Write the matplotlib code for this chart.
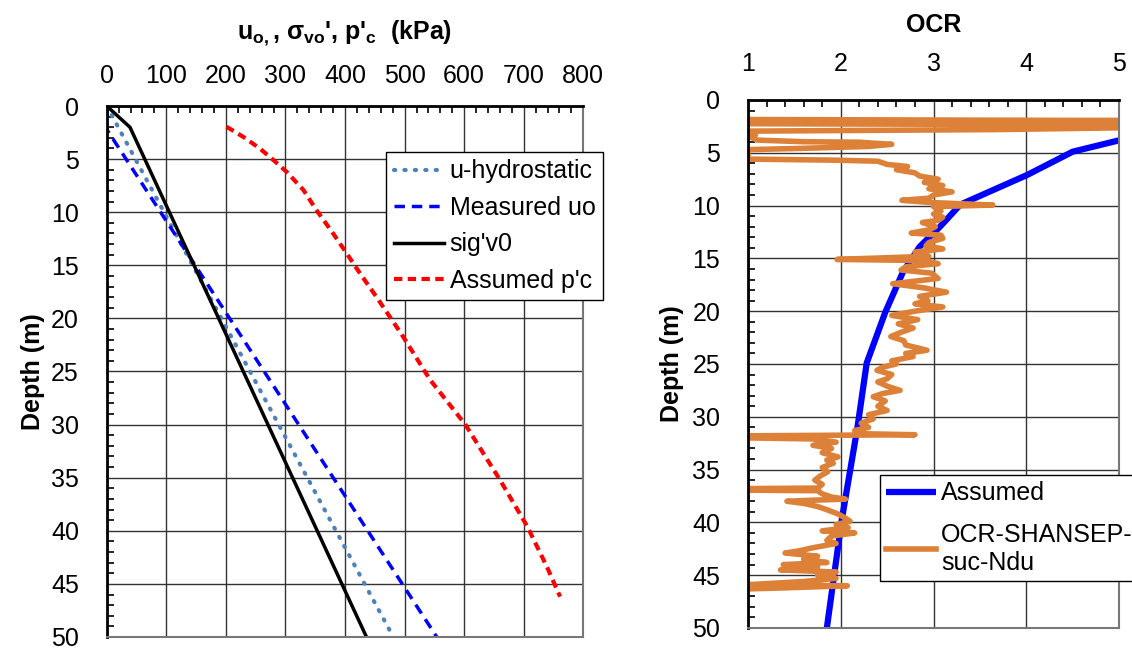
import matplotlib
matplotlib.use("Agg")
import matplotlib.pyplot as plt
import numpy as np

plt.rcParams['font.family'] = ['Liberation Sans', 'DejaVu Sans']
plt.rcParams['mathtext.fontset'] = 'custom'
plt.rcParams['mathtext.rm'] = 'Liberation Sans'
plt.rcParams['mathtext.bf'] = 'Liberation Sans:bold'

# ---------------- left panel data (kPa vs depth) ----------------
hydro_depth = [0, 50]
hydro_u = [0, 481]

meas_depth = [0, 2.2, 50]
meas_u = [0, 0, 554]

sig_depth = [0, 2, 50]
sig_v0 = [0, 39, 436]

pc_depth = [1.95, 2.9, 4.0, 5.1, 6.2, 7.9, 9.8, 12.0, 13.9, 15.75, 18.0,
            21.5, 25.8, 30.0, 35.2, 39.6, 43.4, 46.2]
pc_val = [201, 229, 257, 280, 302, 330, 352, 380, 403, 425, 453,
          495, 543, 602, 660, 706, 739, 761]

# ---------------- right panel data (OCR vs depth) ----------------
ocr_ass_depth = [3.5, 4.9, 7.1, 9.9, 12.0, 13.9, 16.3, 20.1, 24.9, 31.0, 39.8, 50]
ocr_ass = [5.15, 4.5, 4.01, 3.29, 3.07, 2.85, 2.67, 2.48, 2.28, 2.18, 2.01, 1.85]

ocr_sh_depth = [1.85, 1.95, 2.05, 2.25, 2.35, 2.6, 2.8, 2.95, 3.3, 3.5, 3.8, 3.95,
                4.0, 4.2, 4.4, 4.6, 4.7, 5.6, 5.7, 5.8, 6.1, 6.3, 6.6, 6.9, 7.2,
                7.5, 7.8, 8.1, 8.4, 8.7, 9.0, 9.3, 9.5, 9.7, 9.95, 10.1, 10.5,
                10.8, 11.1, 11.4, 11.6, 12.0, 12.3, 12.6, 12.8, 13.1, 13.5, 13.8,
                14.1, 14.4, 14.8, 15.1, 15.2, 15.5, 15.8, 16.1, 16.4, 16.9, 17.2,
                17.4, 17.8, 18.2, 18.6, 19.0, 19.3, 19.6, 20.0, 20.4, 20.8, 21.2,
                21.6, 22.0, 22.4, 22.8, 23.2, 23.7, 24.0, 24.3, 24.7, 25.0, 25.3,
                25.6, 26.0, 26.4, 26.7, 27.1, 27.5, 27.8, 28.1, 28.5, 29.0, 29.4,
                29.8, 30.2, 30.6, 31.0, 31.3, 31.6, 31.7, 31.8, 32.0, 32.1, 32.4,
                32.7, 33.0, 33.4, 33.8, 34.1, 34.4, 34.8, 35.2, 35.6, 36.0, 36.4,
                36.75, 36.8, 36.95, 37.0, 37.3, 37.6, 37.8, 37.9, 38.0, 38.2, 38.5,
                38.8, 39.2, 39.6, 39.9, 40.2, 40.5, 40.8, 41.0, 41.3, 41.7, 42.0,
                42.4, 42.7, 42.9, 43.2, 43.5, 43.8, 44.0, 44.2, 44.5, 44.7, 45.0,
                45.3, 45.6, 45.9, 46.0, 46.2, 46.3]
ocr_sh = [1.0, 5.3, 1.0, 1.0, 5.3, 5.3, 3.7, 1.0, 1.08, 1.02, 1.1, 1.6,
          2.2, 2.55, 2.3, 1.5, 1.0, 1.0, 1.95, 2.4, 2.5, 2.72, 2.6, 2.8, 2.85,
          3.05, 2.9, 3.1, 2.95, 3.2, 3.0, 2.95, 2.66, 2.95, 3.64, 3.0, 3.08,
          3.0, 3.1, 3.05, 2.88, 3.02, 2.95, 2.76, 3.08, 3.1, 2.95, 2.92,
          3.1, 2.8, 2.95, 1.96, 2.9, 3.05, 2.7, 2.65, 2.98, 3.05, 2.75,
          2.56, 2.9, 3.14, 2.85, 2.94, 2.8, 3.1, 2.8, 2.55, 2.83, 2.62,
          2.78, 2.65, 2.54, 2.68, 2.7, 2.93, 2.7, 2.78, 2.55, 2.6, 2.45,
          2.39, 2.55, 2.5, 2.4, 2.5, 2.64, 2.45, 2.35, 2.48, 2.4, 2.5,
          2.3, 2.35, 2.22, 2.3, 2.15, 2.2, 2.8, 1.0, 1.0, 1.7, 1.95,
          1.7, 1.9, 1.8, 1.97, 1.85, 1.92, 1.8, 1.86, 1.78, 1.72, 1.8,
          1.75, 1.0, 1.0, 1.75, 1.8, 1.9, 2.05, 1.7, 1.42, 1.6, 1.75,
          1.85, 1.97, 2.05, 2.1, 1.95, 2.08, 1.8, 2.15, 1.9, 1.85, 1.95,
          1.7, 1.55, 1.4, 1.75, 1.6, 1.85, 1.38, 1.75, 1.35, 1.95, 1.75,
          1.95, 1.6, 1.0, 2.07, 1.4, 1.0]

FS = 18
grid_col = '#333333'

fig = plt.figure(figsize=(11.32, 6.48), dpi=100)

########################### left panel ###########################
ax1 = fig.add_axes([0.0943, 0.017, 0.421, 0.8194])
ax1.plot(hydro_u, hydro_depth, color='#4F81BD', lw=3, linestyle=(0, (0.3, 2.2)),
         dash_capstyle='round', label='u-hydrostatic')
ax1.plot(meas_u, meas_depth, color='#0000FF', lw=2.5, linestyle=(0, (3, 2)),
         label='Measured uo')
ax1.plot(sig_v0, sig_depth, color='black', lw=2.5, label="sig'v0")
ax1.plot(pc_val, pc_depth, color='#FF0000', lw=3, linestyle=(0, (2, 1.3)),
         label="Assumed p'c")

ax1.set_xlim(0, 800)
ax1.set_ylim(50, 0)
ax1.set_xticks(np.arange(0, 801, 100))
ax1.set_yticks(np.arange(0, 51, 5))
ax1.set_xticks(np.arange(0, 801, 20), minor=True)
ax1.set_yticks(np.arange(0, 51, 1), minor=True)
ax1.xaxis.tick_top()
ax1.xaxis.set_label_position('top')
ax1.tick_params(axis='both', which='both', direction='in', labelsize=FS)
ax1.tick_params(axis='x', which='major', length=0, pad=13)
ax1.tick_params(axis='y', which='major', length=0, pad=20)
ax1.tick_params(axis='both', which='minor', length=5, width=1.2)
ax1.grid(True, which='major', color=grid_col, lw=1)
ax1.set_xlabel(r"u$_{\mathbf{o,}}$, $\mathbf{\sigma}_{\mathbf{vo}}$', p'$_{\mathbf{c}}$  (kPa)",
               fontsize=FS, fontweight='bold', labelpad=18)
ax1.set_ylabel('Depth (m)', fontsize=FS, fontweight='bold', labelpad=4)
for s in ['top', 'left']:
    ax1.spines[s].set_linewidth(2)
    ax1.spines[s].set_color('black')
for s in ['bottom', 'right']:
    ax1.spines[s].set_linewidth(1.5)
    ax1.spines[s].set_color('#777777')

leg1 = ax1.legend(loc='upper left', bbox_to_anchor=(386 / 1132, 1 - 152 / 648),
                  bbox_transform=fig.transFigure, fontsize=FS, frameon=True,
                  fancybox=False, edgecolor='black', framealpha=1,
                  handlelength=2.0, handletextpad=0.25, labelspacing=0.5,
                  borderpad=0.3, borderaxespad=0)
leg1.get_frame().set_linewidth(1)

########################### right panel ###########################
ax2 = fig.add_axes([0.6608, 0.0309, 0.3277, 0.8148])
ax2.plot(ocr_ass, ocr_ass_depth, color='#0000FF', lw=4.5, label='Assumed',
         solid_capstyle='butt')
ax2.plot(ocr_sh, ocr_sh_depth, color='#DE8138', lw=4, label='OCR-SHANSEP-\nsuc-Ndu',
         solid_joinstyle='round')

ax2.set_xlim(1, 5)
ax2.set_ylim(50, 0)
ax2.set_xticks(np.arange(1, 6, 1))
ax2.set_yticks(np.arange(0, 51, 5))
ax2.set_xticks(np.arange(1, 5.01, 0.2), minor=True)
ax2.set_yticks(np.arange(0, 51, 1), minor=True)
ax2.xaxis.tick_top()
ax2.xaxis.set_label_position('top')
ax2.tick_params(axis='both', which='both', direction='in', labelsize=FS)
ax2.tick_params(axis='x', which='major', length=0, pad=17)
ax2.tick_params(axis='y', which='major', length=0, pad=20)
ax2.tick_params(axis='both', which='minor', length=5, width=1.2)
ax2.grid(True, which='major', color=grid_col, lw=1)
ax2.set_xlabel('OCR', fontsize=FS, fontweight='bold', labelpad=15)
ax2.set_ylabel('Depth (m)', fontsize=FS, fontweight='bold', labelpad=6)
for s in ['top', 'left']:
    ax2.spines[s].set_linewidth(2)
    ax2.spines[s].set_color('black')
for s in ['bottom', 'right']:
    ax2.spines[s].set_linewidth(1.5)
    ax2.spines[s].set_color('#777777')

leg2 = ax2.legend(loc='upper left', bbox_to_anchor=(880 / 1132, 1 - 475 / 648),
                  bbox_transform=fig.transFigure, fontsize=FS, frameon=True,
                  fancybox=False, edgecolor='black', framealpha=1,
                  handlelength=2.0, handletextpad=0.2, labelspacing=0.7,
                  borderpad=0.25, borderaxespad=0)
leg2.get_frame().set_linewidth(1)

fig.savefig('out.png', dpi=100)
